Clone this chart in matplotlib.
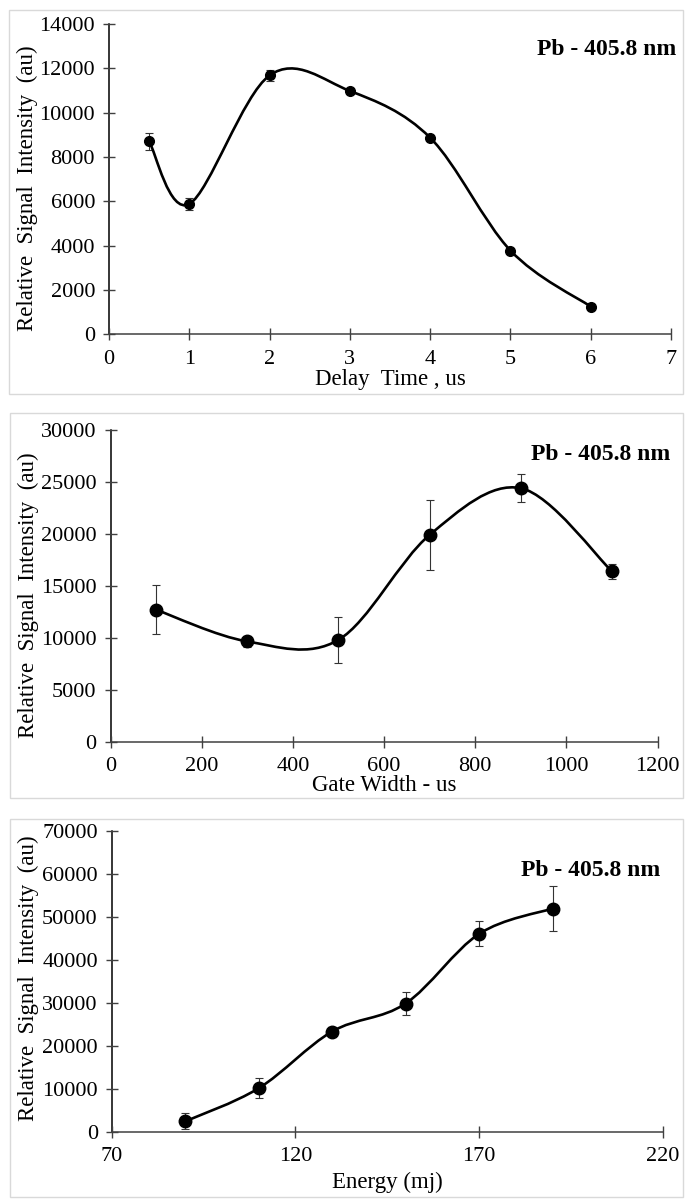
import numpy as np
import matplotlib
matplotlib.use("Agg")
import matplotlib.pyplot as plt
from matplotlib.path import Path
from matplotlib.patches import PathPatch, Rectangle

# data
delay_time = [0.5, 1, 2, 3, 4, 5, 6]
delay_signal = [8700, 5880, 11680, 10980, 8870, 3780, 1250]
delay_err = [380, 290, 260, 150, 100, 100, 100]

gate_width = [100, 300, 500, 700, 900, 1100]
gate_signal = [12700, 9650, 9800, 19900, 24400, 16400]
gate_err = [2380, 550, 2250, 3400, 1350, 750]

energy = [90, 110, 130, 150, 170, 190]
energy_signal = [2400, 10100, 23300, 29800, 46000, 51900]
energy_err = [1850, 2300, 1000, 2750, 2900, 5200]

label_text = "Pb - 405.8 nm"
ylabel_text = "Relative  Signal  Intensity  (au)"

W, H = 685, 1202
plt.rcParams['font.family'] = ['Liberation Serif', 'DejaVu Serif']


def px_box(l, t, r, b):
    return [l / W, 1 - b / H, (r - l) / W, (b - t) / H]


def smooth_path(xs, ys):
    # Excel-like smoothed line: Catmull-Rom turned into cubic Bezier segments
    pts = np.column_stack([xs, ys]).astype(float)
    n = len(pts)
    verts = [pts[0]]
    codes = [Path.MOVETO]
    for i in range(n - 1):
        p0 = pts[i - 1] if i > 0 else pts[i]
        p1 = pts[i]
        p2 = pts[i + 1]
        p3 = pts[i + 2] if i + 2 < n else pts[i + 1]
        c1 = p1 + (p2 - p0) / 6.0
        c2 = p2 - (p3 - p1) / 6.0
        verts += [c1, c2, p2]
        codes += [Path.CURVE4] * 3
    return Path(verts, codes)


fig = plt.figure(figsize=(W / 100, H / 100), dpi=100)

panels = [
    dict(x=delay_time, y=delay_signal, e=delay_err, xlim=(0, 7), ylim=(0, 14000),
         xticks=np.arange(0, 8, 1), yticks=np.arange(0, 14001, 2000),
         xlabel="Delay  Time , us", ax_px=(109, 24, 671, 334.3), box_px=(9, 10, 683, 394),
         ms=7.0, xl=-0.147, yl=(-0.146, 0.47), txt=(1.009, 0.919)),
    dict(x=gate_width, y=gate_signal, e=gate_err, xlim=(0, 1200), ylim=(0, 30000),
         xticks=np.arange(0, 1201, 200), yticks=np.arange(0, 30001, 5000),
         xlabel="Gate Width - us", ax_px=(110.5, 430, 657.5, 741.7), box_px=(9.6, 413, 683, 798),
         ms=9.0, xl=-0.142, yl=(-0.150, 0.47), txt=(1.024, 0.920)),
    dict(x=energy, y=energy_signal, e=energy_err, xlim=(70, 220), ylim=(0, 70000),
         xticks=np.arange(70, 221, 50), yticks=np.arange(0, 70001, 10000),
         xlabel="Energy (mj)", ax_px=(111.7, 830.7, 662.7, 1131.7), box_px=(9.6, 819, 683, 1197),
         ms=9.0, xl=-0.170, yl=(-0.152, 0.51), txt=(0.995, 0.869)),
]

for p in panels:
    l, t, r, b = p['box_px']
    fig.add_artist(Rectangle((l / W, 1 - b / H), (r - l) / W, (b - t) / H,
                             transform=fig.transFigure, fill=False,
                             edgecolor='#d9d9d9', linewidth=1.0))

    ax = fig.add_axes(px_box(*p['ax_px']))
    ax.set_xlim(*p['xlim'])
    ax.set_ylim(*p['ylim'])
    ax.set_xticks(p['xticks'])
    ax.set_yticks(p['yticks'])

    ax.add_patch(PathPatch(smooth_path(p['x'], p['y']), facecolor='none',
                           edgecolor='black', linewidth=1.9, zorder=3))
    ax.errorbar(p['x'], p['y'], yerr=p['e'], fmt='none', ecolor='#333333',
                elinewidth=0.8, capsize=2.6, capthick=0.8, zorder=2)
    ax.plot(p['x'], p['y'], 'o', color='black', markersize=p['ms'], zorder=4)

    for side in ['top', 'right']:
        ax.spines[side].set_visible(False)
    ax.spines['left'].set_color('black')
    ax.spines['bottom'].set_color('#404040')
    ax.spines['left'].set_linewidth(1.1)
    ax.spines['bottom'].set_linewidth(1.1)
    ax.spines['left'].set_zorder(1)
    ax.spines['bottom'].set_zorder(1)
    ax.tick_params(axis='both', direction='inout', length=8, width=1.0,
                   color='#404040', labelsize=16, labelcolor='black')
    ax.tick_params(axis='x', pad=7)
    ax.tick_params(axis='y', pad=6)

    ax.set_xlabel(p['xlabel'], fontsize=16.5)
    ax.xaxis.set_label_coords(0.5, p['xl'])
    ax.xaxis.label.set_va('center')
    ax.set_ylabel(ylabel_text, fontsize=16.5)
    ax.yaxis.set_label_coords(*p['yl'])
    ax.yaxis.label.set_va('center')

    ax.text(p['txt'][0], p['txt'][1], label_text, transform=ax.transAxes,
            ha='right', va='center', fontsize=17, fontweight='bold')

fig.savefig("out.png", dpi=100)
